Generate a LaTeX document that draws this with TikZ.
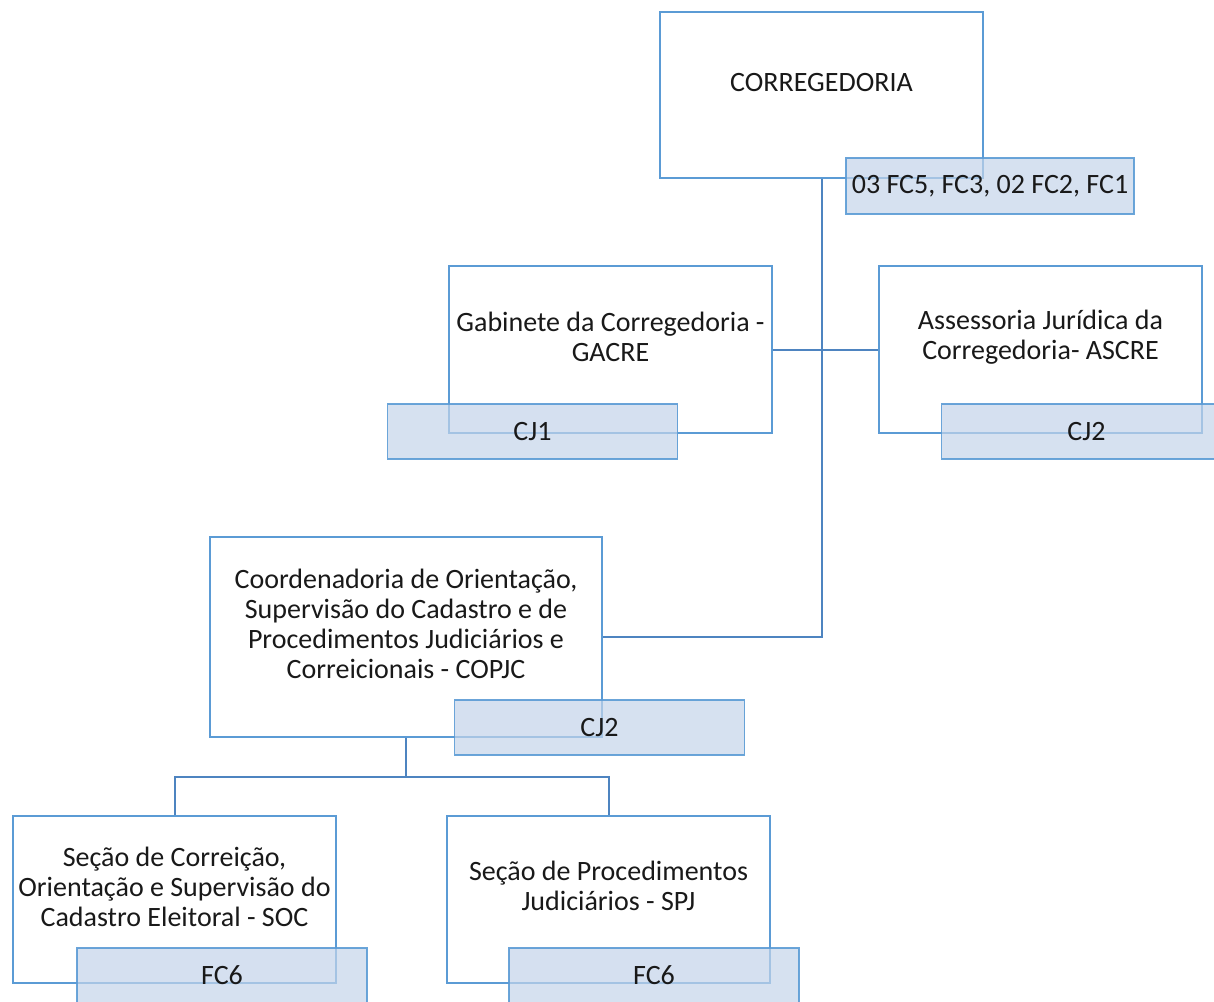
\documentclass[tikz,border=0pt]{standalone}
\usepackage{fontspec}
\setmainfont{Carlito}
\usetikzlibrary{positioning}
\definecolor{boxblue}{RGB}{91,155,213}
\definecolor{lineblue}{RGB}{78,132,192}
\definecolor{tagfill}{RGB}{196,212,234}
\definecolor{textgray}{RGB}{25,25,25}

\begin{document}
\begin{tikzpicture}[x=1pt,y=-1pt,
        every node/.append style={font=\fontsize{28}{30}\selectfont,text=textgray},
        unitbox/.style={draw=boxblue,line width=1.5pt,fill=white,minimum width=323pt,minimum height=167pt,inner sep=0pt},
        cargotag/.style={draw=boxblue,line width=1.8pt,fill=tagfill,fill opacity=0.7,draw opacity=0.9,text opacity=1,minimum width=290pt,minimum height=55pt,inner sep=0pt},
        link/.style={draw=lineblue,line width=2pt}]%
        \useasboundingbox (0,0) rectangle (1214,1001);
        \clip (0,0) rectangle (1214,1001);
        \begin{scope}
            \node[unitbox,minimum height=166pt,label={[yshift=12pt]center:CORREGEDORIA}] (corr) at (821.5,95) {}; %%
            \node[unitbox,label={[align=center,yshift=12.5pt]center:Gabinete da Corregedoria -\\GACRE}] (gab) at (610.5,349.5) {}; %%
            \node[unitbox,label={[align=center,yshift=12.5pt]center:Assessoria Jurídica da\\Corregedoria- ASCRE}] (ass) at (1040.5,349.5) {}; %%
            \node[unitbox,minimum width=392pt,minimum height=200pt,label={[align=center,yshift=13pt]center:Coordenadoria de Orientação,\\Supervisão do Cadastro e de\\Procedimentos Judiciários e\\Correicionais - COPJC}] (copjc) at (406,637) {}; %%
            \node[unitbox,label={[align=center,yshift=12.5pt]center:Seção de Correição,\\Orientação e Supervisão do\\Cadastro Eleitoral - SOC}] (soc) at (174.5,899.5) {}; %%
            \node[unitbox,label={[align=center,yshift=13.5pt]center:Seção de Procedimentos\\Judiciários - SPJ}] (spj) at (608.5,899.5) {}; %%
        \end{scope}
        \coordinate (split) at (406,777); %%
        \draw[link] (corr.south) |- (copjc.east); %%
        \draw[link] (gab.east) -- (ass.west); %%
        \draw[link] (copjc.south) -- (split); %%
        \draw[link] (split) -| (soc.north); %%
        \draw[link] (split) -| (spj.north); %%
        \begin{scope}
            \node[cargotag,minimum width=288pt,minimum height=56pt] (corrtag) at (990,186) {03 FC5, FC3, 02 FC2, FC1}; %%
            \node[cargotag] (gabtag) at (532.5,431.5) {CJ1}; %%
            \node[cargotag] (asstag) at (1086.5,431.5) {CJ2}; %%
            \node[cargotag] (copjctag) at (599.5,727.5) {CJ2}; %%
            \node[cargotag] (soctag) at (222,975.5) {FC6}; %%
            \node[cargotag] (spjtag) at (654,975.5) {FC6}; %%
        \end{scope}
\end{tikzpicture}
\end{document}
